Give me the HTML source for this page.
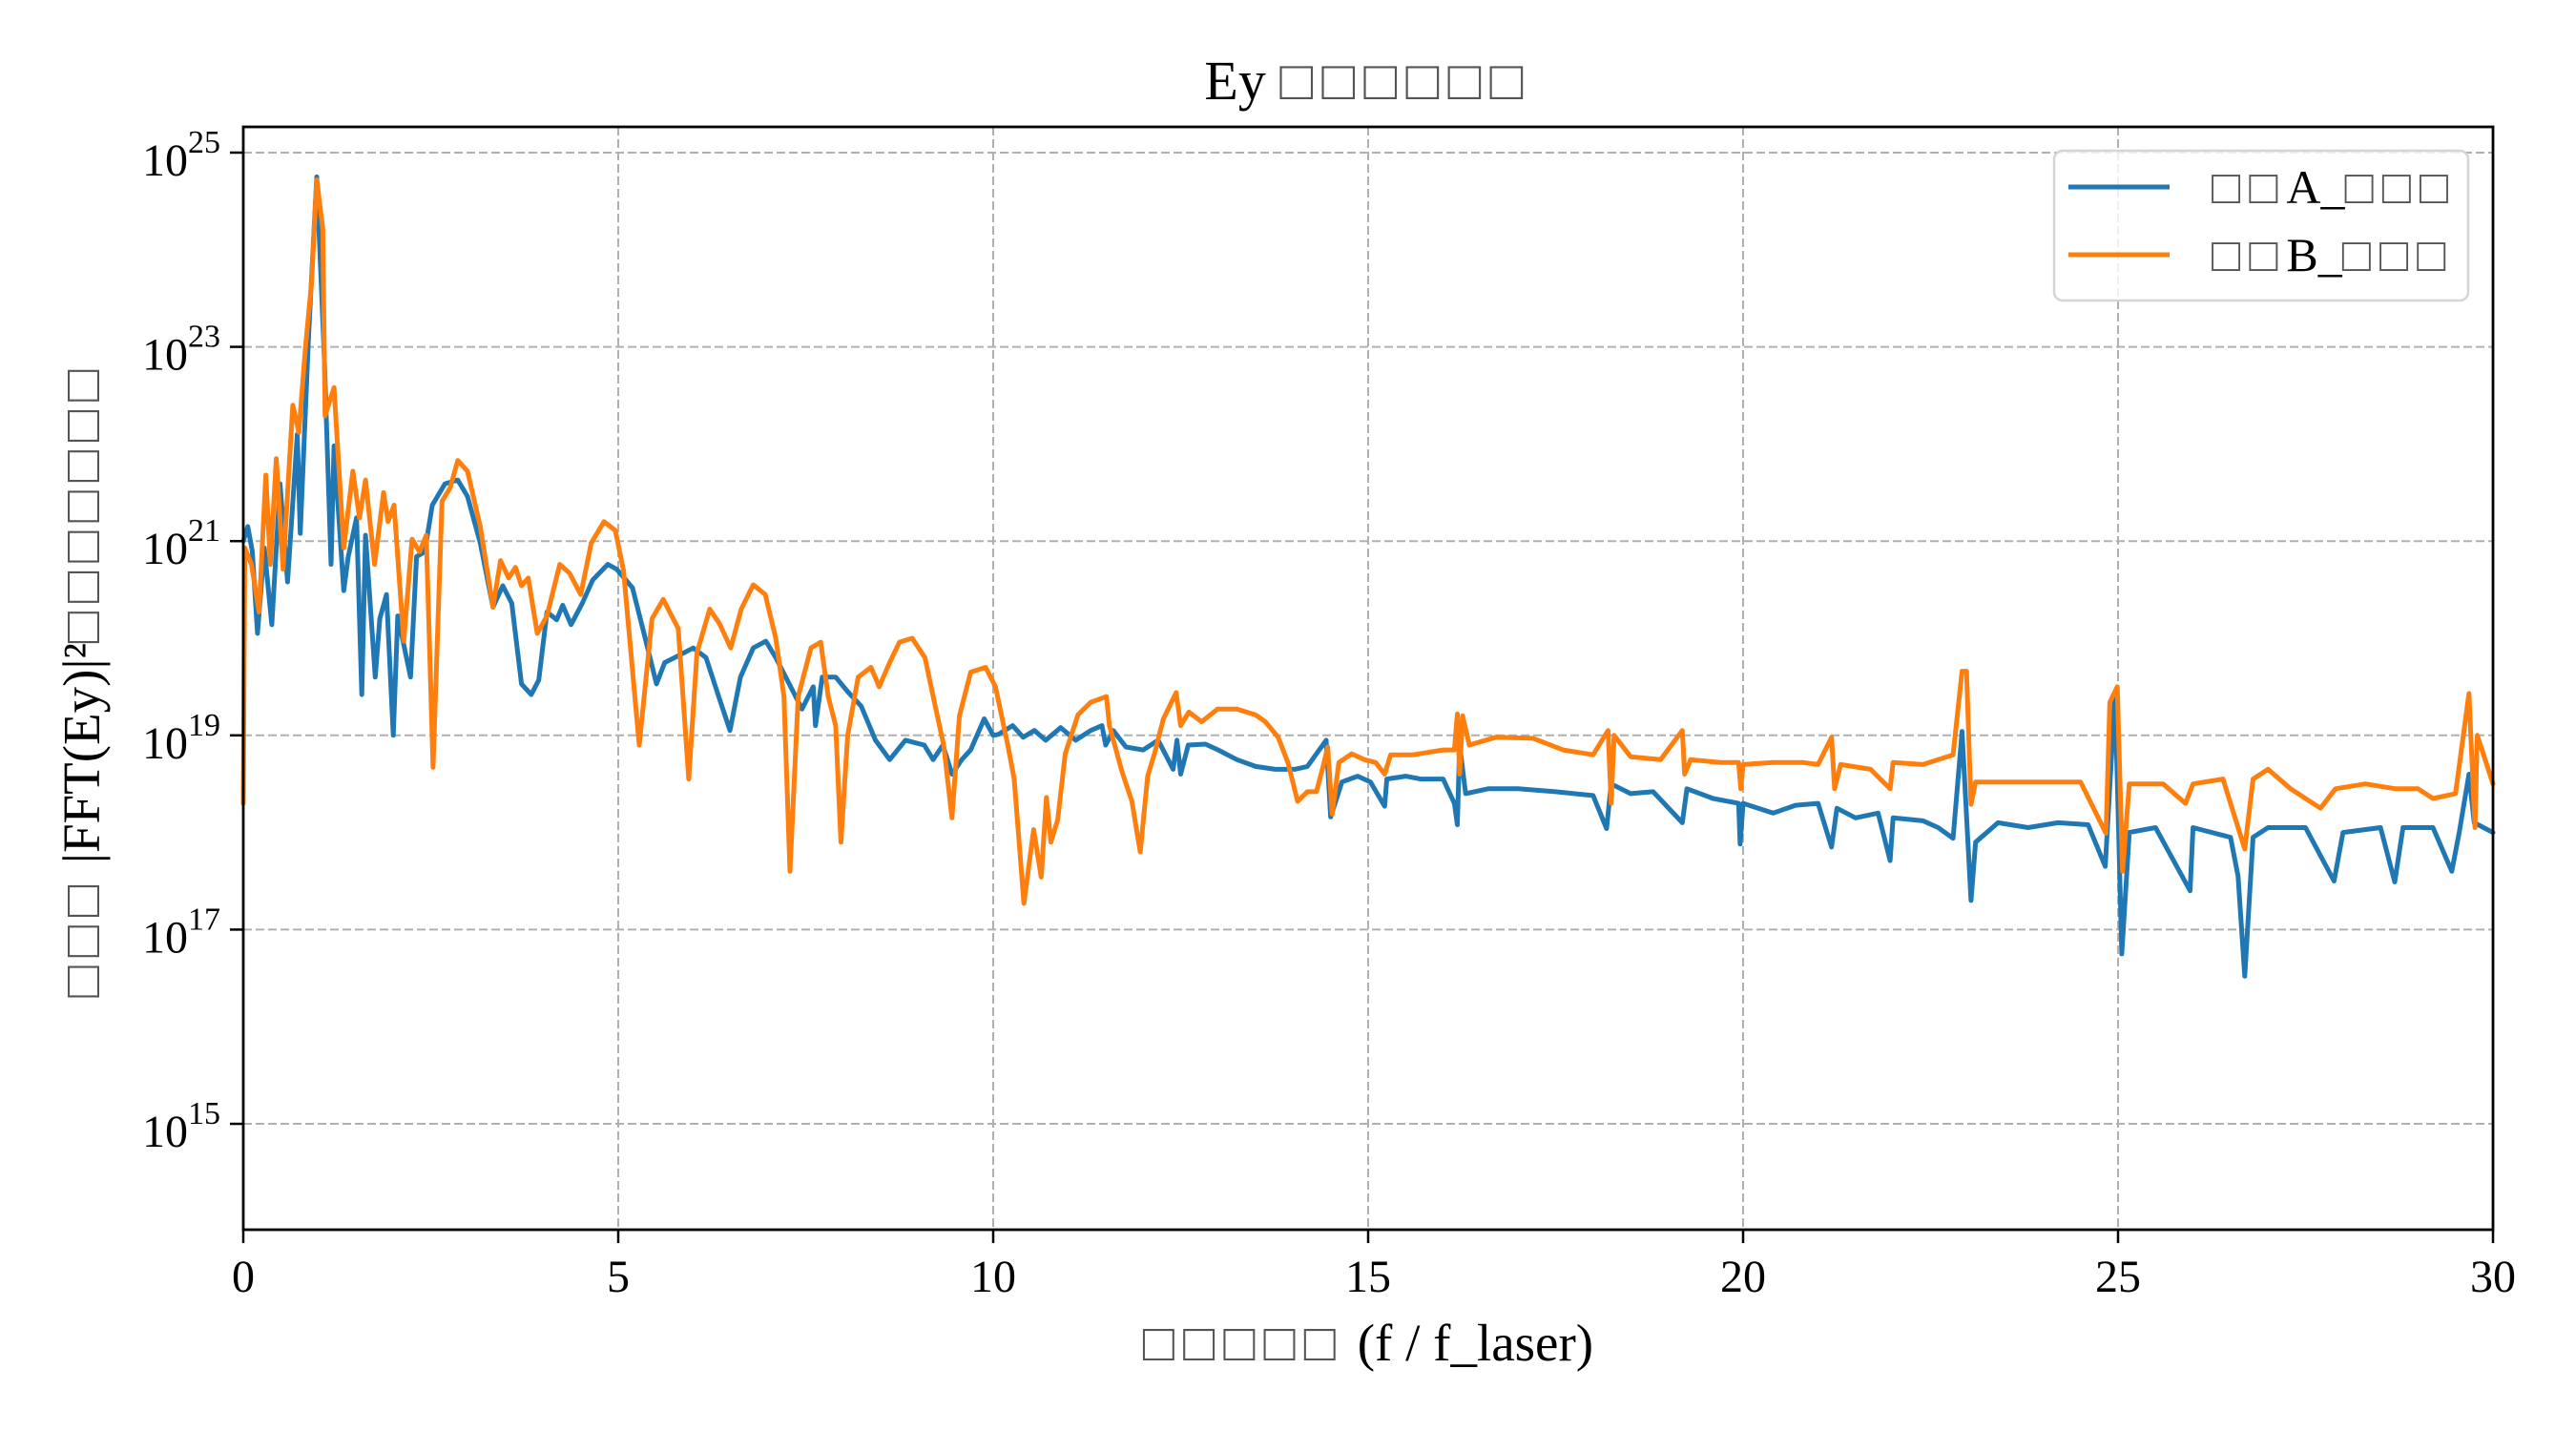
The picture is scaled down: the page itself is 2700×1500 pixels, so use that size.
<!DOCTYPE html>
<html><head><meta charset="utf-8"><style>
html,body{margin:0;padding:0;background:#fff;}
svg{display:block;}
text{font-family:"Liberation Serif","DejaVu Serif",serif;}
.tofu{fill:#555;letter-spacing:9px;}
</style></head>
<body>
<svg id="chart" width="2700" height="1500" viewBox="0 0 2700 1500" xmlns="http://www.w3.org/2000/svg">
<rect width="2700" height="1500" fill="#fff"/>
<g id="grid"></g>
<g id="series"></g>
<rect x="255" y="133" width="2358" height="1156" fill="none" stroke="#000" stroke-width="2.8"/>
<g id="ticks"></g>
<text x="1434" y="104" font-size="58" text-anchor="middle" fill="#000">Ey <tspan class="tofu">□□□□□□</tspan></text>
<text x="1434" y="1426" font-size="55" text-anchor="middle" fill="#000"><tspan class="tofu">□□□□□</tspan> (f / f_laser)</text>
<text transform="translate(104,712) rotate(-90)" font-size="55" text-anchor="middle" fill="#000"><tspan class="tofu">□□□</tspan> |FFT(Ey)|²<tspan class="tofu">□□□□□□□</tspan></text>
<g>
<rect x="2153" y="158" width="434" height="157" rx="9" fill="#fff" fill-opacity="0.8" stroke="#d5d5d5" stroke-width="2.5"/>
<g>
<line x1="2168" y1="196" x2="2274" y2="196" stroke="#1f77b4" stroke-width="5"/>
<text x="2318" y="213" font-size="50" fill="#000"><tspan class="tofu">□□</tspan>A_<tspan class="tofu">□□□</tspan></text>
</g>
<g>
<line x1="2168" y1="267" x2="2274" y2="267" stroke="#ff7f0e" stroke-width="5"/>
<text x="2318" y="284" font-size="50" fill="#000"><tspan class="tofu">□□</tspan>B_<tspan class="tofu">□□□</tspan></text>
</g>
</g>
</svg>
<script>
const freqA=[0,0.06,0.12,0.19,0.28,0.38,0.49,0.59,0.72,0.76,0.87,0.98,1.08,1.17,1.21,1.34,1.4,1.51,1.58,1.63,1.76,1.82,1.91,2.0,2.06,2.23,2.31,2.42,2.52,2.69,2.86,2.99,3.16,3.33,3.46,3.58,3.71,3.84,3.94,4.05,4.18,4.26,4.37,4.52,4.66,4.86,4.98,5.19,5.32,5.51,5.62,5.75,6.0,6.17,6.34,6.49,6.63,6.8,6.97,7.1,7.28,7.45,7.6,7.63,7.72,7.9,8.06,8.24,8.43,8.62,8.83,9.08,9.2,9.33,9.45,9.58,9.7,9.88,10.0,10.07,10.26,10.4,10.55,10.7,10.9,11.1,11.3,11.45,11.5,11.6,11.77,12.0,12.2,12.4,12.45,12.5,12.6,12.83,13.0,13.25,13.5,13.76,14.02,14.19,14.44,14.5,14.65,14.86,15.03,15.22,15.25,15.5,15.7,16.0,16.15,16.19,16.22,16.3,16.6,17.0,17.5,18.0,18.18,18.24,18.5,18.8,19.19,19.25,19.6,19.94,19.96,20.0,20.4,20.7,21.0,21.18,21.25,21.5,21.8,21.96,22.0,22.4,22.6,22.8,22.92,23.04,23.1,23.4,23.8,24.2,24.6,24.83,24.96,25.05,25.15,25.5,25.96,26.0,26.5,26.6,26.69,26.8,27.0,27.5,27.88,28.0,28.5,28.69,28.8,29.2,29.45,29.55,29.68,29.75,30.0];
const logPowerA=[21.0,21.15,20.9,20.05,20.93,20.14,21.59,20.58,22.1,21.08,23.1,24.75,22.9,20.76,21.98,20.49,20.84,21.24,19.42,21.06,19.6,20.2,20.45,19.0,20.23,19.6,20.84,20.89,21.37,21.59,21.63,21.46,20.98,20.32,20.54,20.36,19.53,19.42,19.57,20.27,20.19,20.34,20.14,20.36,20.6,20.76,20.71,20.52,20.12,19.53,19.75,19.8,19.9,19.8,19.4,19.05,19.6,19.9,19.97,19.8,19.53,19.27,19.5,19.1,19.6,19.6,19.45,19.3,18.95,18.75,18.95,18.9,18.75,18.9,18.6,18.75,18.85,19.17,19.0,19.01,19.1,18.98,19.05,18.95,19.08,18.95,19.05,19.1,18.9,19.05,18.88,18.85,18.95,18.65,18.95,18.6,18.9,18.91,18.85,18.75,18.68,18.65,18.65,18.68,18.95,18.16,18.52,18.58,18.52,18.27,18.55,18.58,18.55,18.55,18.3,18.08,18.9,18.4,18.45,18.45,18.42,18.38,18.04,18.5,18.4,18.42,18.1,18.45,18.35,18.3,17.88,18.3,18.2,18.28,18.3,17.85,18.25,18.15,18.2,17.71,18.15,18.12,18.05,17.94,19.04,17.3,17.9,18.1,18.05,18.1,18.08,17.65,19.43,16.75,18.0,18.05,17.4,18.05,17.95,17.55,16.52,17.95,18.05,18.05,17.5,18.0,18.05,17.49,18.05,18.05,17.6,18.0,18.6,18.1,18.0];
const freqB=[0,0.02,0.11,0.21,0.3,0.36,0.44,0.53,0.66,0.74,0.83,0.91,0.98,1.06,1.09,1.21,1.34,1.46,1.55,1.63,1.75,1.87,1.93,2.01,2.14,2.25,2.35,2.44,2.53,2.65,2.76,2.86,2.99,3.16,3.33,3.43,3.54,3.63,3.71,3.8,3.92,4.05,4.22,4.35,4.5,4.64,4.81,4.96,5.07,5.28,5.45,5.6,5.7,5.8,5.94,6.05,6.22,6.35,6.5,6.64,6.8,6.96,7.1,7.21,7.29,7.4,7.57,7.7,7.8,7.9,7.97,8.06,8.2,8.37,8.48,8.62,8.75,8.92,9.09,9.2,9.34,9.45,9.55,9.7,9.9,10.03,10.2,10.28,10.41,10.54,10.64,10.71,10.77,10.86,10.96,11.13,11.3,11.51,11.55,11.72,11.85,11.96,12.06,12.15,12.27,12.44,12.5,12.61,12.78,12.99,13.25,13.5,13.63,13.8,13.93,14.06,14.19,14.31,14.4,14.46,14.52,14.61,14.78,14.95,15.1,15.22,15.3,15.6,16.0,16.15,16.19,16.22,16.26,16.35,16.7,17.2,17.6,18.0,18.2,18.24,18.28,18.5,18.9,19.19,19.22,19.3,19.7,19.94,19.97,20.0,20.4,20.8,21.0,21.18,21.22,21.3,21.7,21.96,22.0,22.4,22.6,22.8,22.92,22.98,23.04,23.1,23.6,24.0,24.5,24.84,24.89,24.99,25.06,25.15,25.6,25.9,26.0,26.4,26.69,26.8,27.0,27.3,27.7,27.9,28.3,28.7,29.0,29.2,29.5,29.68,29.76,29.79,30.0];
const logPowerB=[18.3,20.93,20.76,20.27,21.68,20.76,21.85,20.71,22.4,22.12,23.0,23.65,24.72,24.22,22.29,22.58,20.93,21.72,21.24,21.63,20.76,21.5,21.2,21.37,19.97,21.02,20.89,21.06,18.67,21.41,21.55,21.83,21.72,21.15,20.32,20.8,20.62,20.73,20.54,20.62,20.05,20.23,20.76,20.67,20.45,20.98,21.2,21.11,20.7,18.9,20.2,20.4,20.25,20.1,18.55,19.85,20.3,20.15,19.9,20.3,20.55,20.45,20.0,19.4,17.6,19.4,19.9,19.96,19.4,19.1,17.9,19.0,19.6,19.7,19.5,19.75,19.96,20.0,19.8,19.4,18.9,18.15,19.2,19.65,19.7,19.5,18.88,18.55,17.27,18.03,17.54,18.36,17.9,18.13,18.81,19.21,19.34,19.4,19.1,18.62,18.32,17.8,18.58,18.81,19.17,19.44,19.1,19.24,19.14,19.27,19.27,19.21,19.14,18.98,18.72,18.32,18.42,18.42,18.68,18.88,18.19,18.72,18.81,18.75,18.72,18.6,18.8,18.8,18.85,18.85,19.22,18.6,19.2,18.9,18.98,18.97,18.85,18.8,19.05,18.3,19.0,18.78,18.75,19.05,18.6,18.75,18.72,18.72,18.45,18.7,18.72,18.72,18.7,18.98,18.45,18.7,18.65,18.45,18.72,18.7,18.75,18.8,19.66,19.66,18.29,18.52,18.52,18.52,18.52,17.99,19.34,19.5,17.6,18.5,18.5,18.3,18.5,18.55,17.83,18.55,18.65,18.45,18.25,18.45,18.5,18.45,18.45,18.35,18.4,19.43,18.05,19.0,18.5];
const xTicks=[0,5,10,15,20,25,30];
const yTickExps=[15,17,19,21,23,25];

const NS='http://www.w3.org/2000/svg';
const PL=255,PR=2613,PT=133,PB=1289;
const XMIN=0,XMAX=30,YMIN=13.91,YMAX=25.265;
function xScale(v){return PL+(v-XMIN)/(XMAX-XMIN)*(PR-PL);}
function yScale(lg){return PB-(lg-YMIN)/(YMAX-YMIN)*(PB-PT);}
function mk(tag,attrs,parent){const e=document.createElementNS(NS,tag);for(const k in attrs)e.setAttribute(k,attrs[k]);parent.appendChild(e);return e;}
const grid=document.getElementById('grid'),ticks=document.getElementById('ticks'),series=document.getElementById('series');

xTicks.forEach(t=>{
  const x=xScale(t);
  const gl=mk('line',{x1:x,y1:PT,x2:x,y2:PB,stroke:'#b0b0b0','stroke-width':2,'stroke-dasharray':'9,4'},grid);
  
  
  const tk=mk('line',{x1:x,y1:PB,x2:x,y2:PB+14,stroke:'#000','stroke-width':2.5},ticks);
  
  
  const tl=mk('text',{x:x,y:PB+65,'font-size':48,'text-anchor':'middle',fill:'#000'},ticks);
  tl.textContent=String(t);
  
  
});
yTickExps.forEach(e=>{
  const y=yScale(e);
  const gl=mk('line',{x1:PL,y1:y,x2:PR,y2:y,stroke:'#b0b0b0','stroke-width':2,'stroke-dasharray':'9,4'},grid);
  
  
  const tk=mk('line',{x1:PL-14,y1:y,x2:PL,y2:y,stroke:'#000','stroke-width':2.5},ticks);
  
  
  const tl=mk('text',{x:PL-24,y:y+24,'font-size':48,'text-anchor':'end',fill:'#000'},ticks);
  
  
  const base=document.createElementNS(NS,'tspan');base.textContent='10';tl.appendChild(base);
  const sup=document.createElementNS(NS,'tspan');sup.setAttribute('dy','-24');sup.setAttribute('font-size','34');sup.textContent=String(e);tl.appendChild(sup);
});

function drawLine(xs,ys,color,name){
  let d='';
  for(let i=0;i<xs.length;i++){d+=(i?'L':'M')+xScale(xs[i]).toFixed(1)+','+yScale(ys[i]).toFixed(1);}
  const p=mk('path',{d:d,fill:'none',stroke:color,'stroke-width':5,'stroke-linejoin':'round','stroke-linecap':'round'},series);
  
  
}
drawLine(freqA,logPowerA,'#1f77b4','series-a-line');
drawLine(freqB,logPowerB,'#ff7f0e','series-b-line');
</script>
</body></html>
